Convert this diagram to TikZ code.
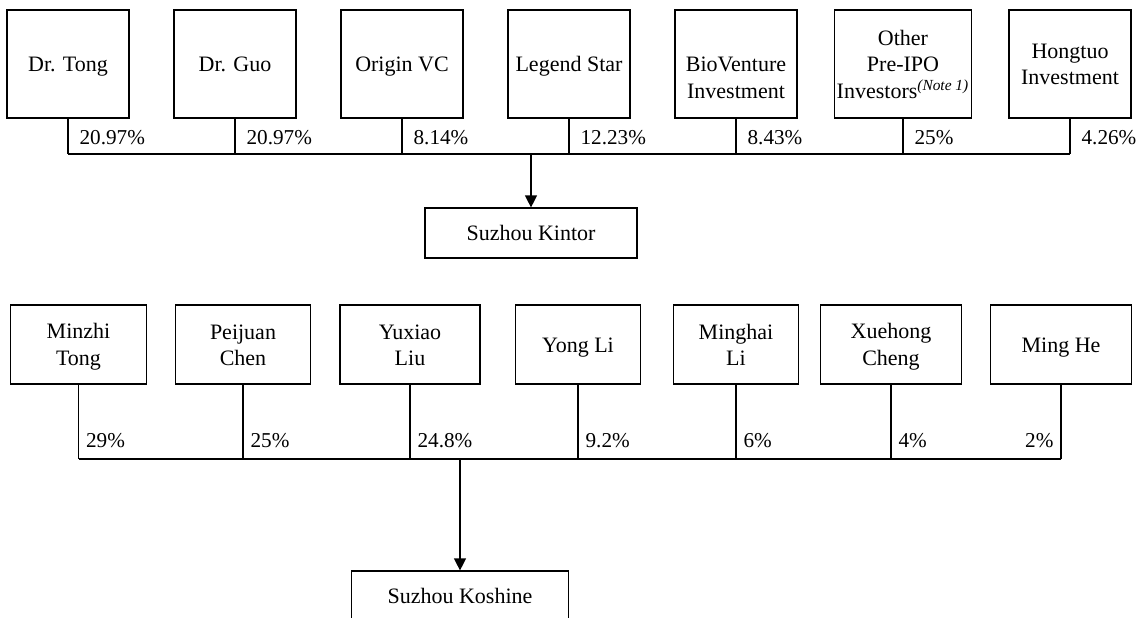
\documentclass[tikz,border=0pt]{standalone}
\usepackage{fontspec}
\setmainfont{Liberation Serif}
\usetikzlibrary{arrows.meta}
\newcommand\boxstrut{\rule[-2.3pt]{0pt}{12.3pt}}

\begin{document}
\begin{tikzpicture}[x=0.5pt, y=-0.5pt, line width=0.6pt,
  font=\fontsize{11}{13.2}\selectfont,
  boxed/.style={draw, align=center, inner sep=1pt},
  holder/.style={boxed, minimum height=54pt, minimum width=61pt},
  person/.style={boxed, minimum height=39.5pt},
  company/.style={boxed, minimum height=25pt},
  pct/.style={inner sep=0pt, font=\fontsize{10.6}{13}\selectfont},
  feed/.style={-{Triangle[length=6pt,width=6pt]}}]

  \useasboundingbox (0,0) rectangle (1139,617);

  % Suzhou Kintor
  \foreach \n/\x/\t in {tong/68/{Dr. Tong}, guo/235/{Dr. Guo}, origin/402/{Origin VC},
      legend/569/{Legend Star}, bioventure/736/{\mbox{}\\BioVenture\\Investment},
      otherpre/903/{Other\\Pre-IPO\\Investors\textsuperscript{\itshape (Note 1)}},
      hongtuo/1070/{Hongtuo\\Investment}}
    \node[holder] (\n) at (\x,64) {\boxstrut\t\boxstrut};

  \node[company, minimum width=106pt] (kintor) at (531,233) {\boxstrut Suzhou Kintor\boxstrut};
  \coordinate (topbus) at (531,154);

  \foreach \n/\p in {tong/20.97, guo/20.97, origin/8.14, legend/12.23,
      bioventure/8.43, otherpre/25, hongtuo/4.26}
    \draw (\n.south) -- (\n.south |- topbus)
      node[pct, pos=.53, anchor=west, xshift=5.5pt] {\p\%};

  \draw (tong.south |- topbus) -- (hongtuo.south |- topbus);
  \draw[feed] (topbus) -- (kintor.north);

  % Suzhou Koshine
  \foreach \n/\x/\w/\t in {mtong/78.5/68/{Minzhi\\Tong}, pchen/243/67.5/{Peijuan\\Chen},
      yliu/410/70/{Yuxiao\\Liu}, yli/578/62.5/{Yong Li}, mli/736/62.5/{Minghai\\Li},
      xcheng/891/70.5/{Xuehong\\Cheng}, mhe/1061/70.5/{Ming He}}
    \node[person, minimum width=\w pt] (\n) at (\x,344.5) {\boxstrut\t\boxstrut};

  \node[company, minimum width=108.5pt] (koshine) at (460,596) {\boxstrut Suzhou Koshine\boxstrut};
  \coordinate (lowbus) at (460,459);

  \foreach \n/\p in {mtong/29, pchen/25, yliu/24.8, yli/9.2, mli/6, xcheng/4}
    \draw (\n.south) -- (\n.south |- lowbus)
      node[pct, pos=.75, anchor=west, xshift=3.5pt] {\p\%};
  \draw (mhe.south) -- (mhe.south |- lowbus)
    node[pct, pos=.75, anchor=east, xshift=-3.5pt] {2\%};

  \draw (mtong.south |- lowbus) -- (mhe.south |- lowbus);
  \draw[feed] (lowbus) -- (koshine.north);
\end{tikzpicture}
\end{document}
